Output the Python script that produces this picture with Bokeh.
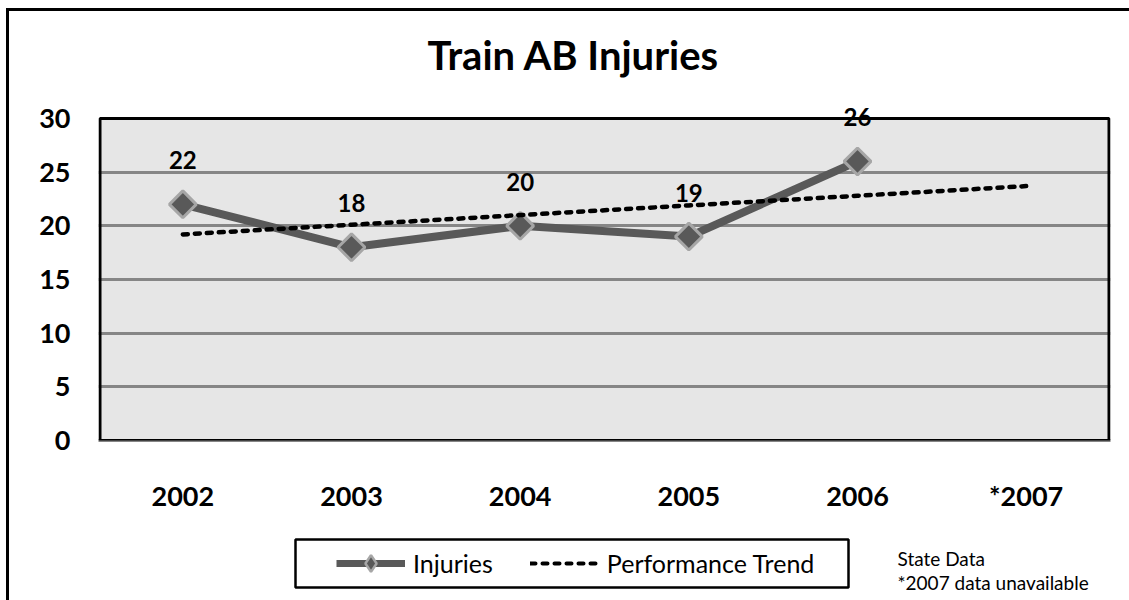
import math
from bokeh.plotting import figure
from bokeh.layouts import column
from bokeh.models import (FactorRange, Range1d, FixedTicker, Legend, LegendItem,
                          Label, BoxAnnotation, ColumnDataSource)
from bokeh.core.properties import value
from bokeh.embed import file_html
from bokeh.resources import INLINE

# ---- data ----
years = ["2002", "2003", "2004", "2005", "2006", "*2007"]
injury_years = ["2002", "2003", "2004", "2005", "2006"]
injuries = [22, 18, 20, 19, 26]
trend = [19.2, 20.1, 21.0, 21.9, 22.8, 23.7]
y_ticks = [0, 5, 10, 15, 20, 25, 30]
grid_ticks = [5, 10, 15, 20, 25]
title_text = "Train AB Injuries"
legend_labels = ["Injuries", "Performance Trend"]
note_lines = ["State Data", "*2007 data unavailable"]

FONT = "Lato"
LINE_GRAY = "#595959"
MARK_EDGE = "#a6a6a6"
GRID_GRAY = "#868686"
PLOT_BG = "#e6e6e6"

# ---- layout constants (pixels) ----
OX, OY = 9, 11                 # content origin inside the outer border
W = 1120
H_MAIN = 519
H_BOTTOM = 70
ML, MR, MT, MB = 89, 19, 0, 90
FRAME_W = W - ML - MR
FRAME_H = H_MAIN - MT - MB
FRAME_X0 = OX + ML
PX_PER_UNIT = 322 / 30.0
Y_TOP = FRAME_H / PX_PER_UNIT

p = figure(width=W, height=H_MAIN,
           x_range=FactorRange(*years, range_padding=0),
           y_range=Range1d(0, Y_TOP),
           output_backend="svg", toolbar_location=None,
           min_border_left=ML, min_border_right=MR,
           min_border_top=MT, min_border_bottom=MB)

p.background_fill_color = "white"
p.border_fill_color = "white"
p.outline_line_color = None

# plot area fill + border
p.add_layout(BoxAnnotation(bottom=0, top=30, fill_color=PLOT_BG, fill_alpha=1,
                           line_alpha=0, level="image"))
p.add_layout(BoxAnnotation(bottom=0, top=30, left=1.5, right=FRAME_W - 1.5,
                           left_units="screen", right_units="screen",
                           fill_alpha=0, line_color="black", line_alpha=1, line_width=3,
                           level="overlay"))

p.xgrid.grid_line_color = None
p.ygrid.ticker = FixedTicker(ticks=grid_ticks)
p.ygrid.grid_line_color = GRID_GRAY
p.ygrid.grid_line_width = 3
p.yaxis.ticker = FixedTicker(ticks=y_ticks)

for ax in (p.xaxis, p.yaxis):
    ax.major_tick_line_color = None
    ax.minor_tick_line_color = None
    ax.major_tick_out = 0
    ax.major_tick_in = 0
    ax.major_label_text_font = FONT
    ax.major_label_text_font_style = "bold"
    ax.major_label_text_font_size = "27px"
    ax.major_label_text_color = "black"

p.yaxis.axis_line_color = None
p.yaxis.major_label_standoff = 28
p.xaxis.axis_line_color = GRID_GRAY
p.xaxis.axis_line_width = 3
p.xaxis.major_label_standoff = 38

# ---- series ----
src = ColumnDataSource(dict(x=injury_years, y=injuries, lab=[str(v) for v in injuries]))
p.line("x", "y", source=src, line_color=LINE_GRAY, line_width=8)
p.scatter("x", "y", source=src, marker="square", size=19, angle=math.pi / 4,
          fill_color=LINE_GRAY, line_color=MARK_EDGE, line_width=3)
p.line(years, trend, line_color="black", line_width=4.5, line_dash="5 7", line_cap="round")
p.text("x", "y", text="lab", source=src, text_align="center", text_baseline="middle",
       y_offset=-44, text_font=value(FONT), text_font_style="bold",
       text_font_size="24px", text_color="black")

# title (inside the frame, above the plot area)
p.add_layout(Label(x=475, y=386, x_units="screen", y_units="screen", text=title_text,
                   text_align="center", text_baseline="middle", text_font=FONT,
                   text_font_style="bold", text_font_size="40px", text_color="black"))

# ---- bottom strip: legend + notes (frame aligned with the main plot frame) ----
pb = figure(width=W, height=H_BOTTOM,
            x_range=Range1d(FRAME_X0, FRAME_X0 + FRAME_W),
            y_range=Range1d(OY + H_MAIN + H_BOTTOM, OY + H_MAIN),
            x_axis_location=None, y_axis_location=None,
            output_backend="svg", toolbar_location=None,
            min_border_left=ML, min_border_right=MR, min_border_top=0, min_border_bottom=0)
pb.outline_line_color = None
pb.background_fill_color = "white"
pb.border_fill_color = "white"
pb.grid.visible = False

nan_src = dict(x=[math.nan], y=[math.nan])
l_line = pb.line(x="x", y="y", source=ColumnDataSource(nan_src), line_color=LINE_GRAY, line_width=7)
l_mark = pb.scatter(x="x", y="y", source=ColumnDataSource(nan_src), marker="diamond",
                    fill_color=LINE_GRAY, line_color=MARK_EDGE, line_width=2.5)
l_trend = pb.line(x="x", y="y", source=ColumnDataSource(nan_src), line_color="black",
                  line_width=4, line_dash="5 7", line_cap="round")

legend = Legend(items=[LegendItem(label=legend_labels[0], renderers=[l_line, l_mark]),
                       LegendItem(label=legend_labels[1], renderers=[l_trend])],
                orientation="horizontal", location=(234, 12),
                glyph_width=69, glyph_height=42, label_standoff=8, spacing=37,
                padding=4, margin=0,
                label_text_font=FONT, label_text_font_size="25px",
                label_text_color="black",
                border_line_alpha=0, background_fill_alpha=0)
pb.add_layout(legend, "center")
pb.add_layout(BoxAnnotation(left=295, right=848, top=539, bottom=587,
                            fill_alpha=0, line_color="black", line_alpha=1, line_width=2.5,
                            level="overlay"))

for i, line in enumerate(note_lines):
    pb.add_layout(Label(x=897, y=558 + 24 * i, text=line, text_align="left",
                        text_baseline="middle", text_font=FONT,
                        text_font_size="19px", text_color="black"))

root = column(p, pb, spacing=0,
              styles={"margin-left": "6px", "margin-top": "8px",
                      "border-left": "3px solid black", "border-top": "3px solid black"})

open("out.html", "w").write(file_html(root, INLINE))
